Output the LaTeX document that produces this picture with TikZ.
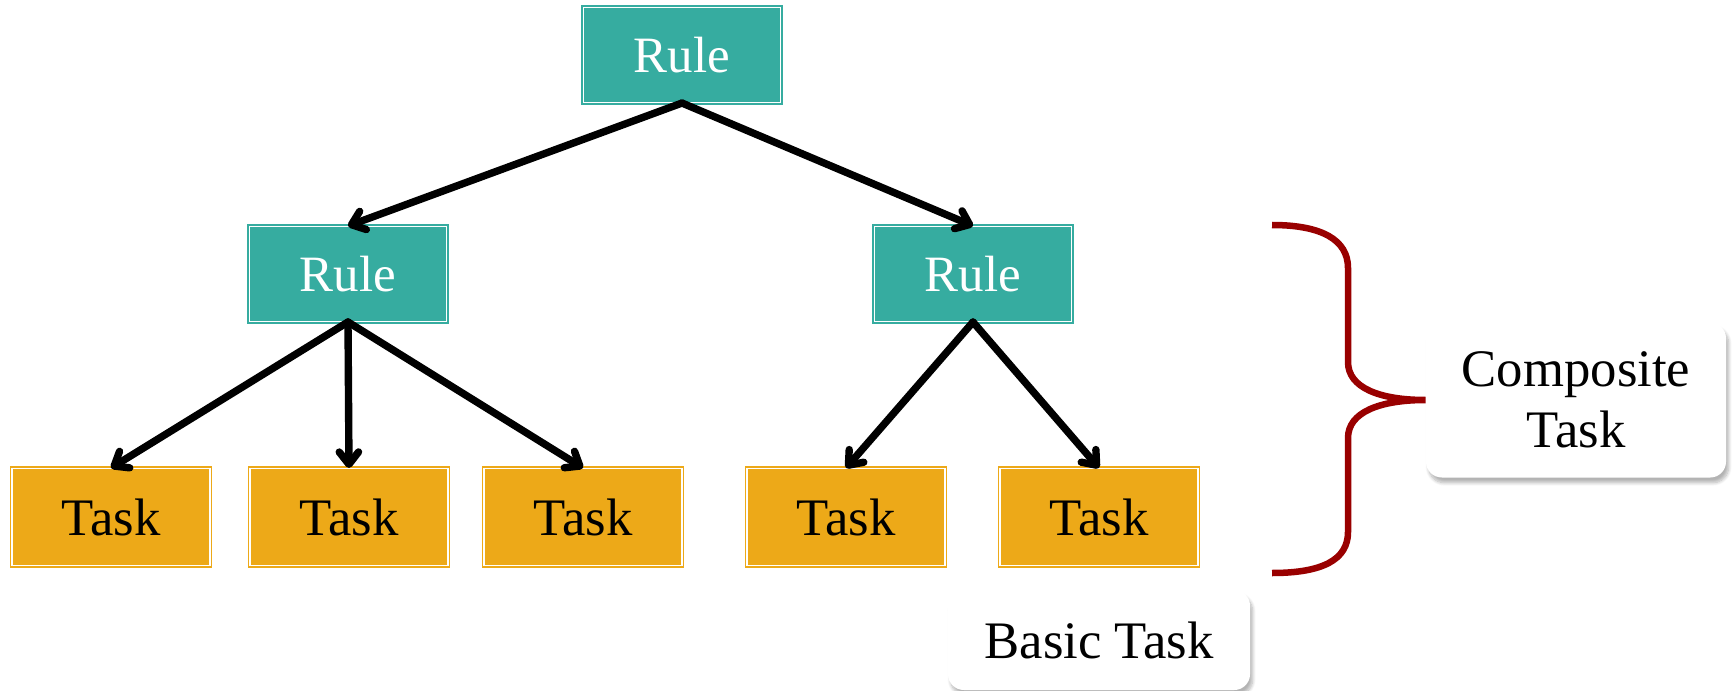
\documentclass[tikz,border=0pt]{standalone}
\usepackage{fontspec}
\setmainfont{Liberation Serif}
\usepackage{tikz}
\usetikzlibrary{arrows.meta,positioning,calc,shadows.blur}
\definecolor{rulecol}{RGB}{54,172,160}
\definecolor{taskcol}{RGB}{237,169,24}
\definecolor{bracecol}{RGB}{153,0,0}
\tikzset{
  rul/.style   ={draw=rulecol,fill=rulecol,double=white,line width=0.6pt,double distance=1.1pt,
                 minimum width=39.4mm,minimum height=19mm,inner sep=0pt,text=white,
                 font=\fontsize{29}{34}\selectfont},
  tsk/.style   ={draw=taskcol,fill=taskcol,double=white,line width=0.6pt,double distance=1.1pt,
                 minimum width=39.6mm,minimum height=19.4mm,inner sep=0pt,
                 font=\fontsize{30}{35}\selectfont},
  note/.style  ={fill=white,rounded corners=9pt,inner sep=0pt,align=center,
                 font=\fontsize{30}{35}\selectfont,
                 blur shadow={shadow xshift=1.5pt,shadow yshift=-3pt,shadow blur steps=8,shadow opacity=30}},
  ar/.style    ={-{Straight Barb[length=7pt,width=11pt,round]},line width=4.2pt,line cap=round},
  brc/.style   ={draw=bracecol,line width=3.7pt},
}
\begin{document}
\begin{tikzpicture}[x=0.2mm,y=-0.2mm]
  \useasboundingbox (0,0) rectangle (1733,691);
  % rules
  \node[rul] (R0) at (682,55)  {Rule};
  \node[rul] (R1) at (348,274) {Rule};
  \node[rul] (R2) at (973,274) {Rule};
  % tasks
  \node[tsk] (T1) at (111,517)  {Task};
  \node[tsk] (T2) at (349,517)  {Task};
  \node[tsk] (T3) at (583,517)  {Task};
  \node[tsk] (T4) at (846,517)  {Task};
  \node[tsk] (T5) at (1099,517) {Task};
  % callouts
  \node[note,minimum width=60mm,minimum height=31mm] (CT) at (1576,400) {Composite\\Task};
  \node[note,minimum width=60.4mm,minimum height=20mm] (BT) at (1099,640) {Basic Task};
  \draw[ar] (R0.south) -- (R1.north);
  \draw[ar] (R0.south) -- (R2.north);
  \foreach \t in {T1,T2,T3} \draw[ar] (R1.south) -- (\t.north);
  \foreach \t in {T4,T5} \draw[ar] (R2.south) -- (\t.north);
  % brace
  \coordinate (bt) at (1272,225);
  \coordinate (bb) at (1272,573);
  \draw[brc] (bt) .. controls (1322,225) and (1348,240) .. (1348,268) -- (1348,362)
    .. controls (1348,388) and (1380,400) .. (CT.west)
    .. controls (1380,400) and (1348,412) .. (1348,438) -- (1348,532)
    .. controls (1348,560) and (1322,573) .. (bb);
\end{tikzpicture}
\end{document}
